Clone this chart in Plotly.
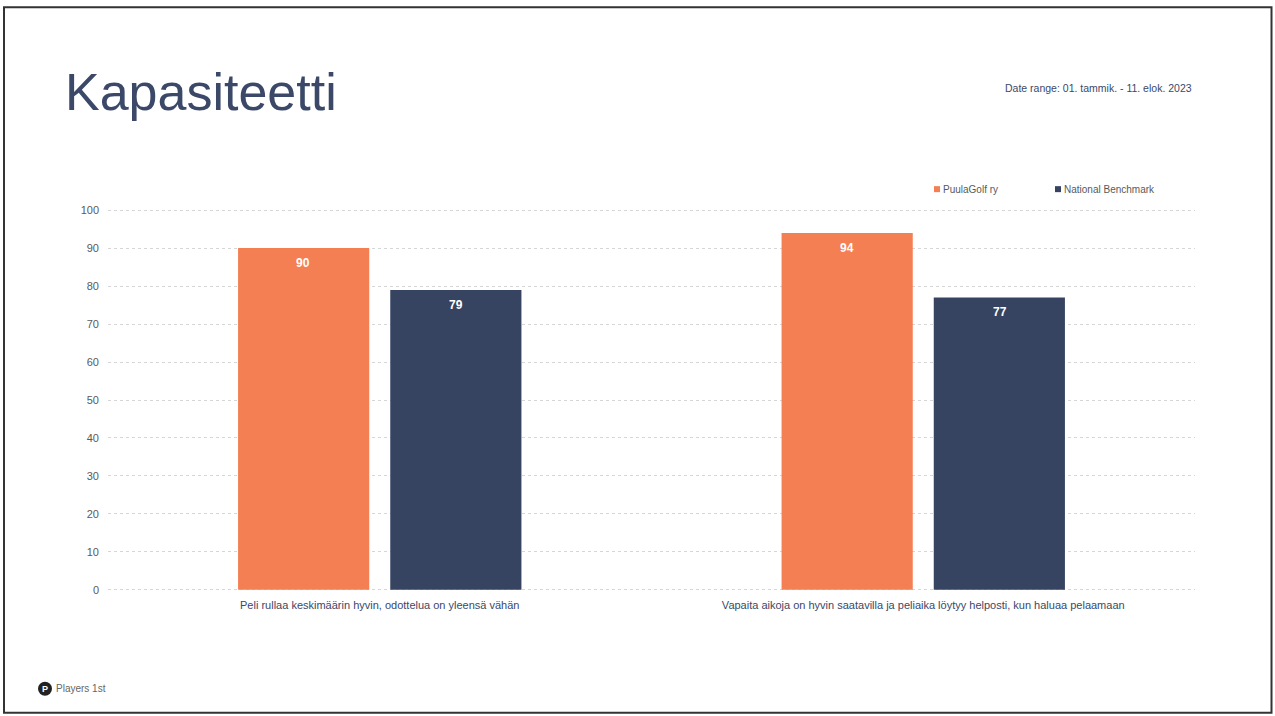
import plotly.graph_objects as go

categories = [
    "Peli rullaa keskimäärin hyvin, odottelua on yleensä vähän",
    "Vapaita aikoja on hyvin saatavilla ja peliaika löytyy helposti, kun haluaa pelaamaan",
]
series_names = ["PuulaGolf ry", "National Benchmark"]
puula_values = [90, 94]
benchmark_values = [79, 77]
y_ticks = [0, 10, 20, 30, 40, 50, 60, 70, 80, 90, 100]

ORANGE = "#F47F52"
NAVY = "#364462"
TITLE_C = "#3B4868"
FONT = "Liberation Sans, Arial, sans-serif"

W, H = 1275, 716
PPU = 3.8  # pixels per unit
EXT = 0.3
L, R = 108, 1195
T = 210 - EXT * PPU
B = 590 + EXT * PPU


def px(x):
    return (x - L) / (R - L)


def py(y):
    return (B - y) / (B - T)


fig = go.Figure()
series = [(series_names[0], puula_values, ORANGE, -76.5),
          (series_names[1], benchmark_values, NAVY, 76.5)]
label_annotations = []
for name, vals, col, shift in series:
    fig.add_trace(go.Bar(
        x=categories, y=vals, name=name, marker=dict(color=col, line=dict(width=0)),
        showlegend=False, hoverinfo="x+y+name",
    ))
    for cat, v in zip(categories, vals):
        label_annotations.append(dict(
            x=cat, y=v, xref="x", yref="y", text=f"<b>{v}</b>", showarrow=False,
            xanchor="center", yanchor="top", xshift=shift, yshift=-6,
            font=dict(color="white", size=12, family=FONT),
        ))

fig.update_layout(
    width=W, height=H,
    margin=dict(l=L, r=W - R, t=T, b=H - B, pad=0),
    paper_bgcolor="white", plot_bgcolor="white",
    barmode="group", bargap=0.44, bargroupgap=0.138,
    font=dict(family=FONT, color="#595959"),
)
fig.update_yaxes(
    range=[-EXT, 100 + EXT], tickvals=y_ticks, showgrid=True, gridcolor="#D6D6D6",
    griddash="dot", gridwidth=1, zeroline=False,
    tickfont=dict(size=11, color="#5A5A5A"), ticks="", ticklabelstandoff=8,
    showline=False,
)
fig.update_xaxes(
    tickfont=dict(size=11, color=TITLE_C), ticks="", showline=False,
    ticklabelstandoff=6,
)

annotations = [
    dict(text="Kapasiteetti", x=px(63), y=py(92), xanchor="left", yanchor="middle",
         font=dict(size=52, color=TITLE_C, family=FONT)),
    dict(text="Date range: 01. tammik. - 11. elok. 2023", x=px(1194), y=py(88),
         xanchor="right", yanchor="middle", font=dict(size=10.5, color=TITLE_C, family=FONT)),
    dict(text=series_names[0], x=px(941), y=py(189), xanchor="left", yanchor="middle",
         font=dict(size=10, color="#595959", family=FONT)),
    dict(text=series_names[1], x=px(1062), y=py(189), xanchor="left", yanchor="middle",
         font=dict(size=10, color="#595959", family=FONT)),
    dict(text="Players 1st", x=px(54), y=py(689), xanchor="left", yanchor="middle",
         font=dict(size=10, color="#666666", family=FONT)),
    dict(text="<b>P</b>", x=px(45), y=py(689), xanchor="center", yanchor="middle",
         font=dict(size=9, color="white", family=FONT)),
]
for a in annotations:
    a.update(xref="paper", yref="paper", showarrow=False)
fig.update_layout(annotations=annotations + label_annotations)

shapes = [
    dict(type="rect", x0=px(934), x1=px(940), y0=py(186), y1=py(192),
         fillcolor=ORANGE, line=dict(width=0)),
    dict(type="rect", x0=px(1055), x1=px(1061), y0=py(186), y1=py(192),
         fillcolor=NAVY, line=dict(width=0)),
    dict(type="circle", x0=px(38), x1=px(52), y0=py(696), y1=py(682),
         fillcolor="#222222", line=dict(width=0), layer="below"),
    dict(type="rect", x0=px(4), x1=px(1271.5), y0=py(713), y1=py(7),
         line=dict(color="#333333", width=2), fillcolor="rgba(0,0,0,0)"),
]
for s in shapes:
    s.update(xref="paper", yref="paper")
fig.update_layout(shapes=shapes)

fig.write_html(
    "out.html",
    config={"displayModeBar": False},
    post_script="document.body.style.margin='0';document.body.style.overflow='hidden';",
)
